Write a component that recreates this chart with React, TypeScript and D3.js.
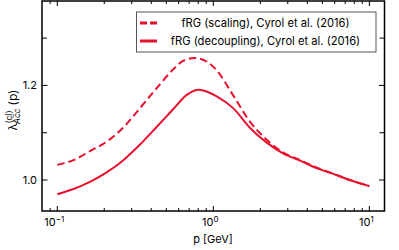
import React from "react";
import * as d3 from "d3";

const pSolid = [0.1, 0.127, 0.162, 0.207, 0.265, 0.339, 0.433, 0.554, 0.676, 0.81, 1.05, 1.34, 1.72, 2.2, 2.81, 3.6, 4.6, 5.88, 7.5, 10];
const lamSolid = [0.970, 0.981, 0.996, 1.016, 1.042, 1.075, 1.112, 1.150, 1.180, 1.191, 1.177, 1.152, 1.110, 1.079, 1.056, 1.041, 1.025, 1.013, 1.000, 0.987];

const pDashed = [0.1, 0.127, 0.162, 0.207, 0.265, 0.339, 0.433, 0.554, 0.64, 0.76, 0.91, 1.05, 1.34, 1.72, 2.2, 2.75, 3.6, 4.6, 5.88, 7.5, 10];
const lamDashed = [1.032, 1.042, 1.061, 1.081, 1.111, 1.152, 1.194, 1.234, 1.252, 1.258, 1.250, 1.232, 1.179, 1.123, 1.085, 1.060, 1.042, 1.026, 1.013, 1.000, 0.987];

const yMajor = [1.0, 1.2];
const yMinor = [1.1, 1.3];
const xMajor = [0.1, 1, 10];
const xMajorExp = ["−1", "0", "1"];

const legendLabels = ["fRG (scaling), Cyrol et al. (2016)", "fRG (decoupling), Cyrol et al. (2016)"];

const RED = "#e8112d";
const FONT = "Inter, 'Liberation Sans', Arial, sans-serif";

export default function App() {
  const W = 399, H = 250;
  const L = 42, R = 384.5, T = 1, B = 211;
  const x = d3.scaleLog().domain([Math.pow(10, -1.098), Math.pow(10, 1.097)]).range([L, R]);
  const y = d3.scaleLinear().domain([0.9345, 1.3784]).range([B, T]);

  const line = d3.line<[number, number]>()
    .x(d => x(d[0]))
    .y(d => y(d[1]))
    .curve(d3.curveMonotoneX);

  const solid = line(pSolid.map((p, i) => [p, lamSolid[i]]))!;
  const dashed = line(pDashed.map((p, i) => [p, lamDashed[i]]))!;

  const xMinor: number[] = [];
  for (let e = -2; e <= 1; e++) {
    for (let k = 2; k <= 9; k++) {
      const v = k * Math.pow(10, e);
      const px = x(v);
      if (px > L + 0.5 && px < R - 0.5) xMinor.push(v);
    }
  }

  return (
    <svg width={W} height={H} style={{ position: "absolute", left: 0, top: 0, background: "#fff" }} fontFamily={FONT}>
      <rect x={0} y={0} width={W} height={H} fill="#fff" />
      <defs>
        <clipPath id="plot">
          <rect x={L} y={T} width={R - L} height={B - T} />
        </clipPath>
      </defs>
      <g clipPath="url(#plot)">
        <path d={dashed} fill="none" stroke={RED} strokeWidth={2} strokeDasharray="7.5,4" />
        <path d={solid} fill="none" stroke={RED} strokeWidth={2} />
      </g>

      {/* ticks */}
      <g stroke="#000" strokeWidth={1}>
        {xMajor.map((v, i) => (
          <g key={"xM" + i}>
            <line x1={x(v)} x2={x(v)} y1={B} y2={B - 5} />
            <line x1={x(v)} x2={x(v)} y1={T} y2={T + 5} />
          </g>
        ))}
        {xMinor.map((v, i) => (
          <g key={"xm" + i}>
            <line x1={x(v)} x2={x(v)} y1={B} y2={B - 3} />
            <line x1={x(v)} x2={x(v)} y1={T} y2={T + 3} />
          </g>
        ))}
        {yMajor.map((v, i) => (
          <g key={"yM" + i}>
            <line x1={L} x2={L + 5.5} y1={y(v)} y2={y(v)} />
            <line x1={R} x2={R - 5.5} y1={y(v)} y2={y(v)} />
          </g>
        ))}
        {yMinor.map((v, i) => (
          <g key={"ym" + i}>
            <line x1={L} x2={L + 5} y1={y(v)} y2={y(v)} />
            <line x1={R} x2={R - 5} y1={y(v)} y2={y(v)} />
          </g>
        ))}
      </g>
      <rect x={L} y={T} width={R - L} height={B - T} fill="none" stroke="#000" strokeWidth={1.5} />

      {/* y tick labels */}
      {yMajor.map((v, i) => (
        <text key={"yl" + i} x={L - 5} y={y(v)} dy="0.36em" textAnchor="end" fontSize={11} fill="#000">
          {v.toFixed(1)}
        </text>
      ))}
      {/* x tick labels */}
      {xMajor.map((v, i) => (
        <text key={"xl" + i} x={x(v) - 3} y={226} textAnchor="middle" fontSize={11} fill="#000">
          10<tspan dy={-4.5} fontSize={8}>{xMajorExp[i]}</tspan>
        </text>
      ))}
      <text x={213} y={243} textAnchor="middle" fontSize={11} fill="#000">p [GeV]</text>

      {/* y label */}
      <g transform="translate(16.5,107.5) rotate(-90)" fill="#000">
        <text x={-23} y={0} fontSize={12}>λ</text>
        <text x={-16} y={-5} fontSize={8.5}>(cl)</text>
        <text x={-16.5} y={3} fontSize={8.5} fontStyle="italic">A</text>
        <text x={-10.5} y={3} fontSize={8.5} fontStyle="italic">c</text>
        <line x1={-10.3} x2={-6.3} y1={-3.3} y2={-3.3} stroke="#000" strokeWidth={0.6} />
        <text x={-6} y={3} fontSize={8.5} fontStyle="italic">c</text>
        <text x={2} y={0} fontSize={12}>(p)</text>
      </g>

      {/* legend */}
      <rect x={136.5} y={12} width={239.5} height={40} fill="#fff" stroke="#555" strokeWidth={1} />
      <line x1={140} x2={157} y1={23} y2={23} stroke={RED} strokeWidth={3} strokeDasharray="7,3" />
      <line x1={140} x2={157} y1={41} y2={41} stroke={RED} strokeWidth={3} />
      <text x={265.5} y={23} dy="0.36em" textAnchor="middle" fontSize={11.2} fill="#000">{legendLabels[0]}</text>
      <text x={265.5} y={41} dy="0.36em" textAnchor="middle" fontSize={11.2} fill="#000">{legendLabels[1]}</text>
    </svg>
  );
}
